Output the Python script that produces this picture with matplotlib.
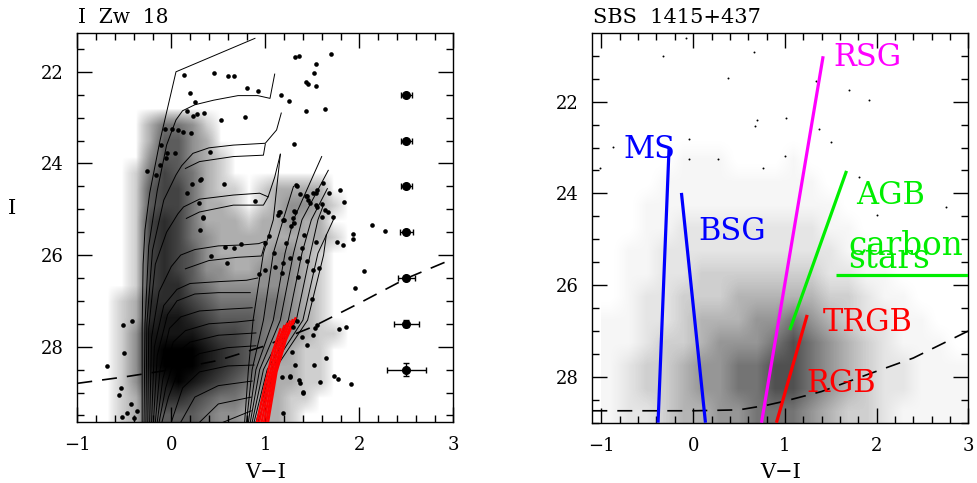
import numpy as np
import matplotlib
matplotlib.use("Agg")
import matplotlib.pyplot as plt
from matplotlib.colors import LinearSegmentedColormap, PowerNorm
from matplotlib.ticker import MultipleLocator

plt.rcParams['font.family'] = ['DejaVu Serif']

# ---------------- I Zw 18 (left panel) ----------------
# star density, 0 (empty) .. 9 (solid black)
# columns: V-I from -0.75 to 1.95 in 0.15 steps, rows: I from 22.65 to 29.65 in 0.35 steps
izw_density = [
    "000000000000000000",
    "000244310000000000",
    "000255320000000000",
    "000355321000000000",
    "001465421000000000",
    "001566421101222200",
    "001566422101233210",
    "001676422212232200",
    "001676432222222210",
    "001676532222332100",
    "001676533223332100",
    "001677543333332100",
    "012777654444432100",
    "012788765554432100",
    "013888876654332110",
    "013899987654321100",
    "013899987653221100",
    "013789876543221100",
    "012677654432211000",
    "012555543322210000",
]
izw_vi_range = (-0.75, 1.95)
izw_i_range = (22.65, 29.65)

# isolated stars
izw_star_vi = [0.135, 0.454, 0.603, 0.667, 0.809, 0.922, 0.196, 0.255, 0.167, 0.227, 0.27, 0.345,
               0.525, 0.787, -0.064, 0.011, 0.071, 0.128, 0.206, -0.113, -0.046, 0.036, -0.053,
               -0.255, -0.166, -0.117, 0.408, 0.557, 0.313, 0.22, 0.167, 0.894, 0.291, 0.337,
               1.316, 1.359, 1.699, 1.539, 1.522, 1.433, 1.458, 1.539, 1.167, 1.249, 1.433, 1.635, 1.309,
               1.334, 1.37, 1.433, 1.458, 1.504, 1.553, 1.476, 1.539, 1.61, 1.68, 1.795, 1.837, 1.553,
               1.603, 1.635, 1.664, 1.723, 1.6, 1.156, 1.138, 1.199, 1.316, 1.298, 1.27,
               2.13, 2.277, 1.936, 1.933, 1.763, 1.827, 2.053, 1.957, 1.493, 1.784, 1.855, 1.553,
               1.511, 1.643, 1.518, 1.73, 1.777, 1.908, 1.579, 1.37, 1.398, 1.191, 1.266, 1.181,
               0.305, 0.34, 0.305, 0.571, 0.667, 0.738, 0.422, 0.596, 0.936, 1.039, 0.997, 1.142,
               1.191, 1.309, 1.323, 1.444, 1.536, 1.305, 1.412, 1.536, 1.387, 1.22, 1.093, 1.191,
               1.263, 1.362, 1.44, 1.511, 1.103, 0.997, 1.174, 1.351, 1.568,
               1.298, 1.334, 1.529, 1.387, 1.44, 1.28, 1.316, 1.362, 1.263, 1.404,
               -0.687, -0.51, -0.42, -0.5, -0.538, -0.556, -0.52, -0.474, -0.43, -0.40, -0.36]
izw_star_i = [22.07, 22.02, 22.09, 22.09, 22.35, 22.43, 22.47, 22.67, 22.86, 22.96, 22.92, 22.91,
              23.05, 22.99, 23.25, 23.25, 23.27, 23.31, 23.34, 23.6, 23.77, 23.77, 23.88,
              24.17, 24.25, 24.03, 23.74, 24.45, 24.35, 24.45, 24.64, 24.83, 24.87, 25.2,
              21.68, 21.65, 21.61, 21.82, 22.03, 22.22, 22.27, 22.3, 22.51, 22.64, 22.86, 22.81, 23.58,
              24.49, 24.67, 24.71, 24.8, 24.64, 24.57, 24.87, 24.91, 24.42, 24.65, 24.58, 24.85, 24.95,
              24.89, 25.02, 25.06, 25.16, 25.16, 25.06, 25.13, 25.24, 25.06, 25.2, 25.37,
              25.35, 25.48, 25.53, 25.64, 25.72, 25.77, 26.35, 26.71, 26.95, 27.61, 27.58, 27.52,
              27.75, 28.24, 28.4, 28.63, 28.7, 28.82, 28.76, 28.79, 29.02, 29.44, 28.66, 28.66,
              24.36, 25.18, 25.45, 25.82, 25.85, 25.76, 26.03, 26.18, 26.41, 25.58, 25.74, 25.05,
              25.24, 25.04, 24.47, 24.71, 24.64, 25.29, 25.57, 25.71, 25.85, 25.74, 25.96, 26.18,
              26.07, 26.07, 26.14, 26.32, 26.25, 26.32, 26.4, 26.47, 26.29,
              27.56, 27.45, 27.6, 27.78, 27.96, 28.11, 28.4, 28.73, 28.65, 28.98,
              28.42, 27.53, 27.43, 28.13, 28.91, 29.06, 29.53, 29.44, 29.26, 29.55, 29.4]

# model isochrones (black) as (V-I, I) vertices
izw_isochrones = [
    [(-0.31, 29.65), (-0.31, 27.6), (-0.30, 26.2), (-0.28, 25.45), (-0.23, 24.65), (-0.12, 23.5), (0.05, 22.0), (0.89, 21.27)],
    [(-0.29, 29.65), (-0.28, 27.5), (-0.24, 25.8), (-0.15, 24.6), (-0.05, 23.6), (0.05, 23.05), (0.12, 22.85),
     (0.25, 22.72), (0.45, 22.62), (0.71, 22.52), (0.92, 22.52), (1.05, 22.58), (1.10, 22.05)],
    [(-0.27, 29.65), (-0.26, 27.5), (-0.2, 25.9), (-0.08, 24.8), (0.05, 24.25), (0.11, 24.05), (0.23, 23.78),
     (0.4, 23.66), (0.66, 23.6), (1.0, 23.56), (1.12, 23.27), (1.17, 22.9)],
    [(1.0, 23.58), (0.98, 23.82), (0.66, 23.85), (0.3, 23.96), (0.15, 24.11)],
    [(-0.25, 29.65), (-0.24, 27.6), (-0.17, 26.2), (-0.05, 25.5), (0.07, 25.1), (0.13, 24.95), (0.3, 24.78),
     (0.66, 24.69), (0.94, 24.65), (1.03, 24.73), (1.1, 24.3), (1.16, 23.8)],
    [(1.03, 24.73), (0.98, 24.91), (0.66, 24.91), (0.3, 25.06), (0.16, 25.2)],
    [(-0.23, 29.65), (-0.21, 27.8), (-0.13, 26.8), (0.0, 26.25), (0.1, 26.0), (0.25, 25.88), (0.5, 25.8),
     (0.75, 25.78), (0.93, 25.75), (1.0, 25.7)],
    [(1.0, 25.72), (0.96, 26.02), (0.7, 26.05), (0.4, 26.12), (0.15, 26.3)],
    [(-0.21, 29.65), (-0.18, 28.0), (-0.08, 27.1), (0.06, 26.75), (0.2, 26.62), (0.5, 26.58), (0.8, 26.55), (0.92, 26.5)],
    [(-0.19, 29.65), (-0.15, 28.2), (-0.04, 27.3), (0.06, 27.0), (0.25, 26.85), (0.5, 26.82), (0.84, 26.82)],
    [(-0.17, 29.65), (-0.12, 28.5), (-0.02, 27.6), (0.1, 27.35), (0.3, 27.22), (0.6, 27.18), (0.86, 27.15)],
    [(-0.15, 29.65), (-0.09, 28.7), (0.02, 27.9), (0.15, 27.65), (0.4, 27.5), (0.7, 27.46), (0.88, 27.42)],
    [(-0.13, 29.65), (-0.06, 28.9), (0.05, 28.15), (0.2, 27.9), (0.5, 27.75), (0.9, 27.7)],
    [(-0.1, 29.65), (-0.03, 29.1), (0.1, 28.4), (0.3, 28.15), (0.6, 28.02), (0.9, 27.98)],
    [(0.0, 29.65), (0.12, 28.9), (0.3, 28.55), (0.6, 28.42), (0.88, 28.4)],
    [(0.1, 29.65), (0.25, 29.1), (0.5, 28.85), (0.86, 28.75)],
    [(0.3, 29.65), (0.5, 29.25), (0.85, 29.1)],
    [(0.55, 29.65), (0.85, 29.4)],
    [(0.78, 29.65), (0.82, 28.5), (0.87, 27.42), (0.98, 25.96), (1.085, 25.23), (1.16, 23.8)],
    [(0.80, 29.65), (0.86, 28.5), (0.98, 27.42), (1.085, 25.96), (1.19, 25.23), (1.3, 24.5)],
    [(0.82, 29.65), (0.9, 28.5), (1.085, 27.42), (1.21, 25.96), (1.3, 25.23), (1.6, 23.85)],
    [(0.84, 29.65), (0.94, 28.5), (1.16, 27.42), (1.3, 25.96), (1.39, 25.23), (1.67, 24.15)],
    [(0.86, 29.65), (0.98, 28.5), (1.245, 27.42), (1.39, 25.96), (1.49, 25.23), (1.66, 24.55)],
    [(0.88, 29.65), (1.02, 28.5), (1.33, 27.42), (1.48, 25.96), (1.56, 25.23), (1.62, 24.9)],
    [(0.9, 29.65), (1.06, 28.5), (1.4, 27.42), (1.56, 25.96), (1.74, 25.16)],
    [(0.92, 29.65), (1.1, 28.5), (1.45, 27.42), (1.62, 26.0), (1.65, 25.55)],
]

# red giant branch models (red)
izw_rgb = [
    [(0.91, 29.65), (1.0, 28.8), (1.08, 28.1), (1.16, 27.62)],
    [(0.935, 29.65), (1.03, 28.75), (1.11, 28.05), (1.2, 27.55)],
    [(0.96, 29.65), (1.055, 28.7), (1.14, 28.0), (1.23, 27.5)],
    [(0.985, 29.65), (1.08, 28.65), (1.17, 27.95), (1.26, 27.45)],
    [(1.01, 29.65), (1.1, 28.6), (1.2, 27.9), (1.29, 27.42)],
    [(1.03, 29.65), (1.12, 28.55), (1.22, 27.85), (1.32, 27.38)],
]

# completeness limit
izw_limit_vi = [-1.0, -0.5, 0.0, 0.5, 1.0, 1.5, 2.0, 2.5, 3.0]
izw_limit_i = [28.8, 28.66, 28.5, 28.3, 27.98, 27.57, 27.05, 26.51, 26.08]

# photometric errors
err_i = [22.5, 23.5, 24.5, 25.5, 26.5, 27.5, 28.5]
err_dvi = [0.06, 0.06, 0.06, 0.07, 0.09, 0.13, 0.21]
err_di = [0.02, 0.02, 0.03, 0.04, 0.05, 0.08, 0.14]

# ---------------- SBS 1415+437 (right panel) ----------------
# columns: V-I from -1.0 to 3.0 in 0.2 steps, rows: I from 20.5 to 29.0 in 0.5 steps
sbs_density = [
    "00000000000000000000",
    "00000000000000000000",
    "00000000000000000000",
    "00000000000000000000",
    "00000000000000000000",
    "00001110001000000000",
    "00011111111100000000",
    "00111111111110000000",
    "00112222222211000000",
    "01122222222221100000",
    "01122333333322110000",
    "01223334444433211000",
    "11223444556543221100",
    "11233455567654321110",
    "12334556677654322111",
    "12334556677654322111",
    "12234455666543321111",
]
sbs_vi_range = (-1.0, 3.0)
sbs_i_range = (20.5, 29.0)

sbs_star_vi = [-0.077, -0.324, 0.658, 0.377, -0.045, 0.694, 0.675, 0.276, -0.051, 0.756, -1.015, -0.869,
               1.334, 1.697, 1.918, 1.017, 1.006, 1.373, 1.508, 1.806, 2.762, 2.0]
sbs_star_i = [20.62, 21.0, 20.91, 21.48, 22.81, 22.41, 22.53, 23.24, 23.24, 23.44, 23.44, 22.98,
              21.55, 21.74, 21.96, 22.35, 23.19, 22.6, 22.88, 23.64, 24.29, 24.48]

sbs_sequences = {
    "MS": ([-0.263, -0.383], [23.01, 29.0], "#0000ff"),
    "BSG": ([-0.128, 0.134], [23.99, 29.0], "#0000ff"),
    "RSG": ([1.417, 0.745], [21.01, 29.0], "#ff00ff"),
    "AGB": ([1.672, 1.053], [23.51, 26.98], "#00ee00"),
    "carbon": ([1.562, 3.0], [25.78, 25.78], "#00ee00"),
    "RGB": ([1.243, 0.908], [26.65, 29.0], "#ff0000"),
}
sbs_labels = [
    ("MS", -0.764, 23.23, "#0000ff", 22),
    ("BSG", 0.053, 25.01, "#0000ff", 22),
    ("RSG", 1.526, 21.23, "#ff00ff", 22),
    ("AGB", 1.781, 24.23, "#00ee00", 22),
    ("carbon", 1.69, 25.34, "#00ee00", 23.5),
    ("stars", 1.69, 25.63, "#00ee00", 23.5),
    ("TRGB", 1.417, 27.01, "#ff0000", 22),
    ("RGB", 1.236, 28.33, "#ff0000", 22),
]

sbs_limit_vi = [-1.1, 0.0, 0.5, 0.8, 1.0, 1.4, 1.9, 2.4, 3.0]
sbs_limit_i = [28.74, 28.74, 28.72, 28.62, 28.53, 28.32, 27.95, 27.59, 27.0]


def density_image(ax, rows, vi_range, i_range, z, norm):
    grid = np.array([[int(c) for c in r] for r in rows], dtype=float)
    ink = LinearSegmentedColormap.from_list("ink", [(0, 0, 0, 0), (0, 0, 0, 1)])
    ax.imshow(grid, extent=(vi_range[0], vi_range[1], i_range[1], i_range[0]), origin="upper",
              aspect="auto", cmap=ink, norm=norm, interpolation="bilinear", zorder=z)


def style_axes(ax):
    ax.xaxis.set_major_locator(MultipleLocator(1))
    ax.xaxis.set_minor_locator(MultipleLocator(0.2))
    ax.yaxis.set_major_locator(MultipleLocator(2))
    ax.yaxis.set_minor_locator(MultipleLocator(0.5))
    ax.tick_params(which="both", direction="in", top=True, right=True, labelsize=13, pad=10, width=1)
    ax.tick_params(which="major", length=10.5)
    ax.tick_params(which="minor", length=5)
    for s in ax.spines.values():
        s.set_linewidth(1)


fig = plt.figure(figsize=(9.78, 4.83), dpi=100)
axL = fig.add_axes([77.3 / 978, 1 - 422.3 / 483, 376 / 978, 389 / 483])
axR = fig.add_axes([592.3 / 978, 1 - 422.7 / 483, 376 / 978, 389.4 / 483])

# left panel
axL.plot(izw_limit_vi, izw_limit_i, color="k", lw=1.2, dashes=(9, 6), zorder=1)
density_image(axL, izw_density, izw_vi_range, izw_i_range, 2, PowerNorm(0.75, vmin=0, vmax=9))
for iso in izw_isochrones:
    xs, ys = zip(*iso)
    axL.plot(xs, ys, color="k", lw=0.7, zorder=3)
for iso in izw_rgb:
    xs, ys = zip(*iso)
    axL.plot(xs, ys, color="#ff0000", lw=1.6, zorder=4)
axL.scatter(izw_star_vi, izw_star_i, s=11, color="k", linewidths=0, zorder=5)
axL.errorbar([2.5] * len(err_i), err_i, xerr=err_dvi, yerr=err_di, fmt="o", color="k",
             ms=5.5, capsize=2.5, elinewidth=1, capthick=1, zorder=5)
axL.set_xlim(-1, 3)
axL.set_ylim(29.65, 21.16)
style_axes(axL)
axL.text(0.003, 1.027, "I  Zw  18", transform=axL.transAxes, fontsize=14.5, va="baseline")

# right panel
density_image(axR, sbs_density, sbs_vi_range, sbs_i_range, 1, PowerNorm(1.5, vmin=0, vmax=9))
axR.scatter(sbs_star_vi, sbs_star_i, s=2, color="k", linewidths=0, zorder=2)
axR.plot(sbs_limit_vi, sbs_limit_i, color="k", lw=1.2, dashes=(9, 6), zorder=3)
for name, (xs, ys, col) in sbs_sequences.items():
    axR.plot(xs, ys, color=col, lw=2.3, zorder=4, solid_capstyle="butt")
for txt, x, y, col, fs in sbs_labels:
    axR.text(x, y, txt, color=col, fontsize=fs, va="baseline", ha="left", zorder=6, clip_on=False)
axR.set_xlim(-1.1, 3.0)
axR.set_ylim(29.0, 20.51)
style_axes(axR)
axR.text(0.003, 1.027, "SBS  1415+437", transform=axR.transAxes, fontsize=15, va="baseline")

# axis labels
fig.text(265.3 / 978, 1 - 478.3 / 483, "V\u2212I", fontsize=15, ha="center", va="baseline")
fig.text(780.3 / 978, 1 - 478.3 / 483, "V\u2212I", fontsize=15, ha="center", va="baseline")
fig.text(12 / 978, 1 - 208 / 483, "I", fontsize=15, ha="center", va="center")

fig.savefig("out.png", dpi=100)
